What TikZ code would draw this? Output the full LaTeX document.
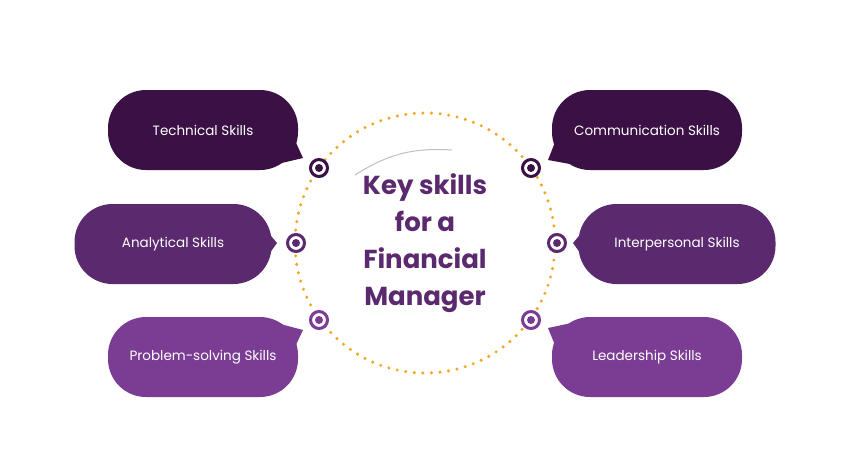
\documentclass[tikz,border=0pt]{standalone}
\usepackage{fontspec}
\setmainfont{Poppins}
\usetikzlibrary{positioning,calc}
\definecolor{plumA}{HTML}{3B1145}
\definecolor{plumB}{HTML}{5B2A6E}
\definecolor{plumC}{HTML}{7B3C93}
\definecolor{dotorange}{HTML}{F5A623}

\begin{document}
\begin{tikzpicture}[x=1pt,y=-1pt,
    bubble/.style={rounded corners=38pt, minimum width=190pt, minimum height=80pt,
        text=white, font=\fontsize{13.5}{16}\selectfont, inner sep=0pt},
    target/.style={circle, draw=#1, line width=3pt, fill=white, minimum size=17pt, inner sep=0pt,
        path picture={\fill[#1] (path picture bounding box.center) circle (4pt);}},
    title/.style={text=plumB, font=\fontsize{26}{37}\selectfont\bfseries, align=center}
]
\useasboundingbox (0,0) rectangle (850,450);

% dotted ring
\draw[dotorange, line width=3.4pt, line cap=round, dash pattern=on 0pt off 8.6pt] (425,243) circle (130);
\draw[black!25, line width=1pt] (355,175) to[bend left=18] (452,150);
\node[title] (key) at (425,243) {Key skills\\for a\\Financial\\Manager};

% left bubbles
\node[bubble, fill=plumA] (tech) at (203,130) {Technical Skills};
\node[bubble, fill=plumB, minimum width=197pt] (anal) at (173,244) {Analytical Skills};
\node[bubble, fill=plumC] (prob) at (203,357) {Problem-solving Skills};
% right bubbles
\node[bubble, fill=plumA] (comm) at (647,130) {Communication Skills};
\node[bubble, fill=plumB, minimum width=197pt] (inter) at (677,244) {Interpersonal Skills};
\node[bubble, fill=plumC] (lead) at (647,357) {Leadership Skills};

% tails
\fill[plumA] ($(tech.east)+(-8,0)$) -- (303,158) -- ($(tech.south east)+(-30,-4)$) -- cycle;
\fill[plumA] ($(comm.west)+(8,0)$) -- (548,160) -- ($(comm.south west)+(30,-4)$) -- cycle;
\fill[plumB] ($(anal.east)+(-4,-12)$) -- (277,243) -- ($(anal.east)+(-4,12)$) -- cycle;
\fill[plumB] ($(inter.west)+(4,-12)$) -- (573,243) -- ($(inter.west)+(4,12)$) -- cycle;
\fill[plumC] ($(prob.east)+(-8,0)$) -- (303,330) -- ($(prob.north east)+(-30,4)$) -- cycle;
\fill[plumC] ($(lead.west)+(8,0)$) -- (548,328) -- ($(lead.north west)+(30,4)$) -- cycle;

% markers
\node[target=plumA] (tTech) at (319,168) {};
\node[target=plumA] (tComm) at (531,168) {};
\node[target=plumB] (tAnal) at (296,243) {};
\node[target=plumB] (tInter) at (557,243) {};
\node[target=plumC] (tProb) at (319,320) {};
\node[target=plumC] (tLead) at (531,320) {};
\end{tikzpicture}
\end{document}
